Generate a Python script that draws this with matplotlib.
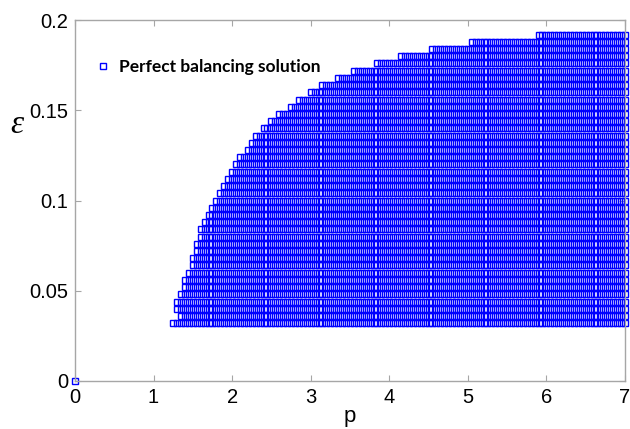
import numpy as np
import matplotlib
matplotlib.use("Agg")
import matplotlib.pyplot as plt

# 每一行 (epsilon) 的左邊界 p 值, 右邊界都到 7
eps_rows = [0.032, 0.036, 0.040, 0.044, 0.048, 0.052, 0.056, 0.060, 0.064, 0.068,
            0.072, 0.076, 0.080, 0.084, 0.088, 0.092, 0.096, 0.100, 0.104, 0.108,
            0.112, 0.116, 0.120, 0.124, 0.128, 0.132, 0.136, 0.140, 0.144, 0.148,
            0.152, 0.156, 0.160, 0.164, 0.168, 0.172, 0.176, 0.180, 0.184, 0.188,
            0.192]
p_left = [1.25, 1.35, 1.30, 1.30, 1.35, 1.40, 1.40, 1.45, 1.50, 1.50,
          1.55, 1.55, 1.60, 1.60, 1.65, 1.70, 1.75, 1.80, 1.85, 1.90,
          1.95, 2.00, 2.05, 2.10, 2.20, 2.25, 2.30, 2.40, 2.50, 2.60,
          2.75, 2.85, 3.00, 3.15, 3.35, 3.55, 3.85, 4.15, 4.55, 5.05,
          5.90]
p_right = 7.0
p_step = 0.05

# 原點的單獨解
origin_p = [0.0]
origin_eps = [0.0]

x_ticks = [0, 1, 2, 3, 4, 5, 6, 7]
y_ticks = [0, 0.05, 0.1, 0.15, 0.2]
y_tick_labels = ["0", "0.05", "0.1", "0.15", "0.2"]

# 展開成網格點
pts_p = []
pts_e = []
for e, pl in zip(eps_rows, p_left):
    ps = np.arange(pl, p_right + 1e-9, p_step)
    pts_p.extend(ps)
    pts_e.extend([e] * len(ps))
pts_p = origin_p + pts_p
pts_e = origin_eps + pts_e

fig = plt.figure(figsize=(6.3, 4.29), dpi=100)
ax = fig.add_axes([0.119, 0.112, 0.873, 0.841])

ax.plot(pts_p, pts_e, linestyle="none", marker="s", markersize=4.2,
        markerfacecolor="none", markeredgecolor="#0000ff",
        markeredgewidth=1.0, clip_on=False,
        label="Perfect balancing solution")

ax.set_xlim(0, 7)
ax.set_ylim(0, 0.2)
ax.set_xticks(x_ticks)
ax.set_yticks(y_ticks)
ax.set_yticklabels(y_tick_labels)

gray = "#a6a6a6"
for s in ax.spines.values():
    s.set_color(gray)
    s.set_linewidth(1.0)
ax.tick_params(direction="in", top=True, right=True, color=gray,
               length=4, labelsize=14.5, labelcolor="black", pad=5)
for lab in ax.get_xticklabels() + ax.get_yticklabels():
    lab.set_family("Liberation Sans")

ax.set_xlabel("p", fontsize=16, family="Liberation Sans", labelpad=-1)
ax.set_ylabel("ε", fontsize=24, family="Liberation Serif", style="italic",
              rotation=0, va="center", ha="center")
ax.yaxis.set_label_coords(-0.105, 0.71)

leg = ax.legend(loc="center left", bbox_to_anchor=(0.01, 0.87), frameon=False,
                handlelength=0.8, handletextpad=0.5, markerscale=1.0,
                prop={"family": "Lato", "weight": "bold", "size": 12.5})

fig.savefig("out.png", dpi=100)
